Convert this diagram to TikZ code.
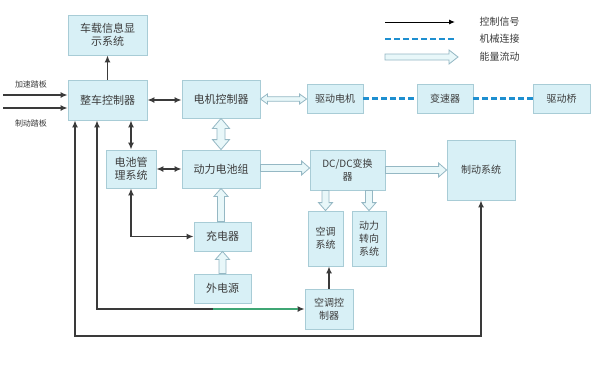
\documentclass[tikz,border=0pt]{standalone}
\usepackage{fontspec}
\setmainfont{Noto Sans CJK SC}
\usetikzlibrary{arrows.meta,calc}
\definecolor{boxfill}{HTML}{D8F0F6}
\definecolor{boxline}{HTML}{A8CCD6}
\definecolor{txt}{HTML}{3C3C3C}
\definecolor{hfill}{HTML}{E8F7F9}
\definecolor{hline}{HTML}{95B8C4}
\definecolor{mech}{HTML}{1E8FD0}
\definecolor{sig}{HTML}{3A3A3A}
\definecolor{grn}{HTML}{3FA674}
\tikzset{
  blk/.style={draw=boxline, fill=boxfill, line width=0.8pt, text=txt, align=center,
    inner sep=1pt, font=\fontsize{11}{13.5}\selectfont},
  sigline/.style={draw=sig, line width=1.7pt},
  sigarr/.style={sigline, -{Latex[length=7pt,width=6pt]}},
  sigboth/.style={sigline, {Latex[length=7pt,width=6pt]}-{Latex[length=7pt,width=6pt]}},
  mechline/.style={draw=mech, line width=2.8pt, dash pattern=on 6pt off 3pt},
  harrow/.style={draw=hline, fill=hfill, line width=0.8pt, line join=miter},
  small/.style={text=txt, font=\fontsize{8}{10}\selectfont},
  leg/.style={text=txt, font=\fontsize{10}{12}\selectfont, anchor=west}
}
% single hollow arrow: start, end, shaft half width, head half width, head length
\newcommand\hollowone[5]{%
  \path[harrow] let \p1=#1, \p2=#2, \n1={atan2(\y2-\y1,\x2-\x1)}, \n2={veclen(\x2-\x1,\y2-\y1)} in
   [shift={(\p1)}, rotate=\n1]
   (0pt,-#3) -- ({\n2*1pt-#5},-#3) -- ({\n2*1pt-#5},-#4) -- ({\n2*1pt},0pt)
   -- ({\n2*1pt-#5},#4) -- ({\n2*1pt-#5},#3) -- (0pt,#3) -- cycle;}
% double hollow arrow
\newcommand\hollowtwo[5]{%
  \path[harrow] let \p1=#1, \p2=#2, \n1={atan2(\y2-\y1,\x2-\x1)}, \n2={veclen(\x2-\x1,\y2-\y1)} in
   [shift={(\p1)}, rotate=\n1]
   (0pt,0pt) -- (#5,#4) -- (#5,#3) -- ({\n2*1pt-#5},#3) -- ({\n2*1pt-#5},#4) -- ({\n2*1pt},0pt)
   -- ({\n2*1pt-#5},-#4) -- ({\n2*1pt-#5},-#3) -- (#5,-#3) -- (#5,-#4) -- cycle;}
\begin{document}
\begin{tikzpicture}[x=1pt,y=-1pt]
\fill[white] (0,0) rectangle (600,375);
\useasboundingbox (0,0) rectangle (600,375);

% boxes
\node[blk, minimum width=79pt, minimum height=40pt] (info) at (107.5,35) {车载信息显\\示系统};
\node[blk, minimum width=79pt, minimum height=40pt] (vcu) at (107.5,100) {整车控制器};
\node[blk, minimum width=78pt, minimum height=38pt] (mc) at (221,99) {电机控制器};
\node[blk, minimum width=50pt, minimum height=38pt] (bms) at (131,169) {电池管\\理系统};
\node[blk, minimum width=78pt, minimum height=38pt] (bat) at (221,169) {动力电池组};
\node[blk, minimum width=56pt, minimum height=29pt, font=\fontsize{10}{12}\selectfont] (motor) at (335,98.5) {驱动电机};
\node[blk, minimum width=56pt, minimum height=29pt, font=\fontsize{10}{12}\selectfont] (gear) at (445,98.5) {变速器};
\node[blk, minimum width=57pt, minimum height=29pt, font=\fontsize{10}{12}\selectfont] (axle) at (561.5,98.5) {驱动桥};
\node[blk, minimum width=75pt, minimum height=40pt, font=\fontsize{10}{13}\selectfont] (dcdc) at (347.5,170) {DC/DC变换\\器};
\node[blk, minimum width=68pt, minimum height=60pt, font=\fontsize{10}{12}\selectfont] (brake) at (481,170) {制动系统};
\node[blk, minimum width=35pt, minimum height=55pt, font=\fontsize{10}{13}\selectfont] (ac) at (325.5,238.5) {空调\\系统};
\node[blk, minimum width=34pt, minimum height=55pt, font=\fontsize{10}{13}\selectfont] (ps) at (369,238.5) {动力\\转向\\系统};
\node[blk, minimum width=48pt, minimum height=40pt, font=\fontsize{10}{13}\selectfont] (acc) at (329,309) {空调控\\制器};
\node[blk, minimum width=57pt, minimum height=29pt] (chg) at (222.5,236.5) {充电器};
\node[blk, minimum width=57pt, minimum height=29pt] (ext) at (222.5,288.5) {外电源};

% pedal inputs
\coordinate (p1) at (3,95);
\coordinate (p2) at (3,108);
\draw[sigarr] (p1) -- (p1 -| vcu.west);
\draw[sigarr] (p2) -- (p2 -| vcu.west);
\node[small] (accl) at (31,84) {加速踏板};
\node[small] (brkl) at (31,123) {制动踏板};

% control signals
\draw[sigarr] (vcu.north) -- (info.south);
\draw[sigboth] (vcu.east) -- (vcu.east -| mc.west);
\draw[sigboth] (bms.north |- vcu.south) -- (bms.north);
\draw[sigboth] (bms.east) -- (bat.west);
\draw[sigboth] (bms.south) |- (chg.west);
\draw[sigboth] ([xshift=-10.5pt]vcu.south) |- (acc.west);
\draw[draw=grn, line width=1.7pt] (213,309) -- ([xshift=-7pt]acc.west);
\coordinate (c2) at (481,336);
\draw[sigboth] ([xshift=-32.5pt]vcu.south) |- (c2) -- (brake.south);
\draw[sigarr] (acc.north) -- (acc.north |- ac.south);

% mechanical links
\draw[mechline] (motor.east) -- (gear.west);
\draw[mechline] (gear.east) -- (axle.west);

% energy flows
\hollowtwo{(mc.east)}{(mc.east -| motor.west)}{2.2pt}{5pt}{7pt}
\hollowtwo{(mc.south)}{(bat.north)}{4pt}{8.5pt}{10pt}
\hollowone{([yshift=1pt]bat.east)}{([yshift=1pt]bat.east -| dcdc.west)}{3.5pt}{7pt}{8pt}
\hollowone{(dcdc.east)}{(dcdc.east -| brake.west)}{3.5pt}{7pt}{8pt}
\hollowone{(ac.north |- dcdc.south)}{(ac.north)}{3.5pt}{7pt}{8pt}
\hollowone{(ps.north |- dcdc.south)}{(ps.north)}{3.5pt}{7pt}{8pt}
\hollowone{(bat.south |- chg.north)}{(bat.south)}{3.5pt}{7pt}{8pt}
\hollowone{(ext.north)}{(chg.south)}{3.5pt}{7pt}{8pt}

% legend
\coordinate (l1a) at (385,22); \coordinate (l1b) at (455,22);
\coordinate (l2a) at (385,39); \coordinate (l2b) at (455,39);
\coordinate (l3a) at (385,57); \coordinate (l3b) at (458,57);
\draw[draw=black, line width=1pt, -{Latex[length=6pt,width=5pt]}] (l1a) -- (l1b);
\draw[mechline] (l2a) -- (l2b);
\hollowone{(l3a)}{(l3b)}{3pt}{7pt}{9pt}
\node[leg] (t1) at (476,22) {控制信号};
\node[leg] (t2) at (476,39) {机械连接};
\node[leg] (t3) at (476,57) {能量流动};
\end{tikzpicture}
\end{document}
